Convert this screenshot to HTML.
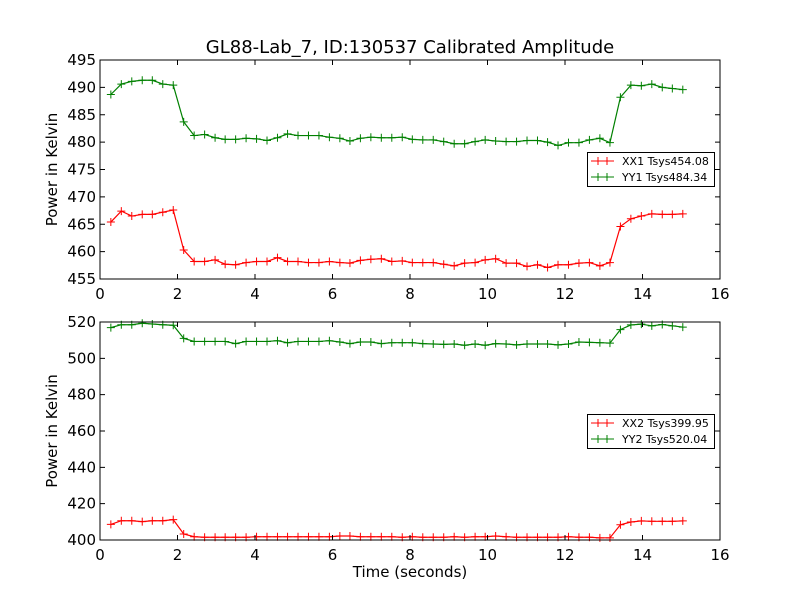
<!DOCTYPE html>
<html><head><meta charset="utf-8"><style>
html,body{margin:0;padding:0;background:#fff;}
svg text{font-family:"DejaVu Sans","Liberation Sans",sans-serif;}
</style></head><body>
<svg id="fig" width="800" height="600" xmlns="http://www.w3.org/2000/svg">
<rect width="800" height="600" fill="#fff"/>
<text x="410" y="53" font-size="18" text-anchor="middle">GL88-Lab_7, ID:130537 Calibrated Amplitude</text>
<text x="410" y="577" font-size="15" text-anchor="middle">Time (seconds)</text>
<g id="top"></g>
<g id="bot"></g>
</svg>
<script>
const times = [0.28,0.55,0.82,1.09,1.35,1.62,1.89,2.16,2.43,2.70,2.97,3.23,3.50,3.77,4.04,4.31,4.58,4.84,5.11,5.38,5.65,5.92,6.19,6.45,6.72,6.99,7.26,7.53,7.80,8.06,8.33,8.60,8.87,9.14,9.41,9.68,9.94,10.21,10.48,10.75,11.02,11.29,11.55,11.82,12.09,12.36,12.63,12.90,13.16,13.43,13.70,13.97,14.24,14.51,14.77,15.04];
const xx1 = [465.4,467.4,466.5,466.8,466.8,467.2,467.6,460.3,458.2,458.2,458.5,457.7,457.6,458.0,458.2,458.2,458.9,458.2,458.2,458.0,458.0,458.2,458.0,457.9,458.4,458.6,458.7,458.2,458.3,458.0,458.0,458.0,457.7,457.4,457.9,458.0,458.5,458.7,457.9,457.9,457.3,457.6,457.1,457.6,457.6,457.9,458.0,457.4,458.0,464.6,466.0,466.5,466.9,466.8,466.8,466.9];
const yy1 = [488.7,490.6,491.1,491.3,491.3,490.6,490.4,483.7,481.2,481.4,480.8,480.5,480.5,480.7,480.6,480.3,480.8,481.5,481.2,481.2,481.2,480.9,480.7,480.2,480.7,480.9,480.8,480.8,480.9,480.5,480.4,480.4,480.1,479.7,479.7,480.1,480.4,480.2,480.1,480.1,480.3,480.3,480.0,479.4,479.9,479.9,480.4,480.7,479.9,488.2,490.4,490.3,490.6,490.0,489.8,489.6];
const xx2 = [408.6,410.6,410.6,410.1,410.6,410.6,411.2,403.3,401.8,401.5,401.5,401.5,401.5,401.5,401.8,401.8,401.8,401.8,401.8,401.8,401.8,401.8,402.2,402.2,401.8,401.8,401.8,401.8,401.5,401.8,401.5,401.5,401.5,401.8,401.5,401.8,401.8,402.2,401.8,401.5,401.5,401.5,401.5,401.5,401.8,401.5,401.5,401.2,401.2,408.4,409.9,410.5,410.3,410.3,410.3,410.5];
const yy2 = [516.9,518.5,518.5,519.3,518.9,518.5,518.2,511.0,509.3,509.3,509.3,509.3,508.1,509.3,509.3,509.3,509.7,508.6,509.3,509.3,509.3,509.7,509.0,508.1,509.0,509.0,508.1,508.6,508.6,508.6,508.1,507.9,507.7,507.9,507.2,507.9,507.2,508.1,507.9,507.4,507.9,507.9,507.9,507.4,507.9,509.0,508.8,508.6,508.4,515.8,518.4,518.8,517.9,518.6,517.9,517.2];
const xTicks = [0,2,4,6,8,10,12,14,16];
const topYTicks = [455,460,465,470,475,480,485,490,495];
const botYTicks = [400,420,440,460,480,500,520];
const topLabels = ["XX1 Tsys454.08","YY1 Tsys484.34"];
const botLabels = ["XX2 Tsys399.95","YY2 Tsys520.04"];

const NS = "http://www.w3.org/2000/svg";
function mk(parent, tag, attrs){const e=document.createElementNS(NS,tag);for(const k in attrs)e.setAttribute(k,attrs[k]);parent.appendChild(e);return e;}

function panel(g, top, bottom, ymin, ymax, yTicks, series, labels, legY, prefix){
  const L=100,R=720;
  const sx=v=>L+(v-0)/(16-0)*(R-L);
  const sy=v=>bottom-(v-ymin)/(ymax-ymin)*(bottom-top);
  const colors=["#ff0000","#008000"];
  series.forEach((s,si)=>{
    const sg=mk(g,"g",{});
    
    
    const pts=s.map((v,i)=>sx(times[i]).toFixed(2)+","+sy(v).toFixed(2)).join(" ");
    const pl=mk(sg,"polyline",{points:pts,fill:"none",stroke:colors[si],"stroke-width":1.2});
    
    
    s.forEach((v,i)=>{
      const x=sx(times[i]),y=sy(v);
      const m=mk(sg,"path",{d:`M${x-4},${y}H${x+4}M${x},${y-4}V${y+4}`,stroke:colors[si],"stroke-width":1});
      
      
    });
  });
  const fr=mk(g,"rect",{x:L,y:top,width:R-L,height:bottom-top,fill:"none",stroke:"#000","stroke-width":1});
  
  
  xTicks.forEach(t=>{
    const x=sx(t);
    const tk=mk(g,"path",{d:`M${x},${bottom}v-5M${x},${top}v5`,stroke:"#000"});
    
    
    const tx=mk(g,"text",{x:x,y:bottom+20,"font-size":15,"text-anchor":"middle"});
    tx.textContent=t;
    
    
  });
  yTicks.forEach(t=>{
    const y=sy(t);
    const tk=mk(g,"path",{d:`M${L},${y}h5M${R},${y}h-5`,stroke:"#000"});
    
    
    const tx=mk(g,"text",{x:L-4,y:y+5,"font-size":15,"text-anchor":"end"});
    tx.textContent=t;
    
    
  });
  const yl=mk(g,"text",{x:0,y:0,"font-size":15,"text-anchor":"middle",transform:`translate(57,${(top+bottom)/2}) rotate(-90)`});
  yl.textContent="Power in Kelvin";
  
  
  const lg=mk(g,"g",{});
  
  
  mk(lg,"rect",{x:587.5,y:legY+0.5,width:127,height:34,fill:"#fff",stroke:"#000"});
  labels.forEach((lab,i)=>{
    const y=legY+9+i*16;
    const e=mk(lg,"g",{});
    
    
    mk(e,"path",{d:`M591,${y}H614M598,${y-4}v8M607,${y-4}v8`,stroke:colors[i],"stroke-width":1});
    const t=mk(e,"text",{x:622,y:y+4,"font-size":11});
    t.textContent=lab;
  });
}
panel(document.getElementById("top"),60,279,455,495,topYTicks,[xx1,yy1],topLabels,152,"top");
panel(document.getElementById("bot"),322,540,400,520,botYTicks,[xx2,yy2],botLabels,414,"bottom");
</script>
</body></html>
